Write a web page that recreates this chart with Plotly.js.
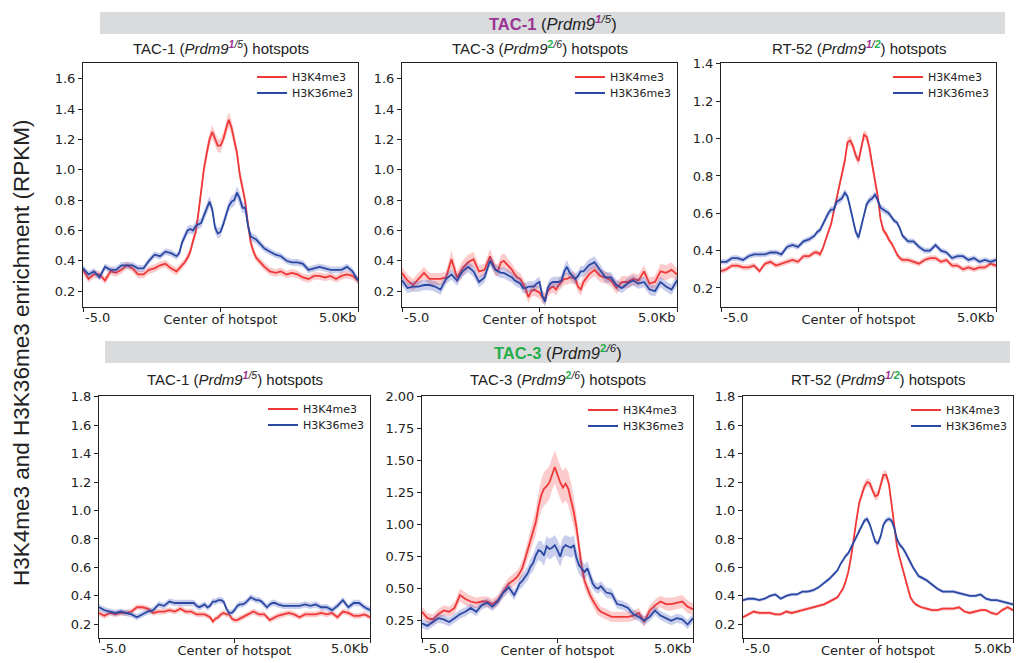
<!DOCTYPE html>
<html><head><meta charset="utf-8">
<script src="https://cdn.plot.ly/plotly-3.0.1.min.js"></script>
<style>html,body{margin:0;padding:0;background:#fff;} #chart{width:1019px;height:663px;}</style>
</head><body><div id="chart"></div>
<script>
// distance from hotspot centre (kb)
const xKb = [-5.0,-4.8,-4.6,-4.4,-4.2,-4.0,-3.8,-3.6,-3.4,-3.2,-3.0,-2.8,-2.6,-2.4,-2.2,-2.0,-1.8,-1.6,
 -1.5,-1.4,-1.3,-1.2,-1.1,-1.0,-0.9,-0.8,-0.7,-0.6,-0.5,-0.4,-0.3,-0.2,-0.1,0.0,0.1,0.2,0.3,0.4,0.5,0.6,0.7,0.8,0.9,1.0,1.1,1.2,1.3,1.4,1.5,
 1.6,1.8,2.0,2.2,2.4,2.6,2.8,3.0,3.2,3.4,3.6,3.8,4.0,4.2,4.4,4.6,4.8,5.0];

const xTickVals = [-5, 0, 5];
const xTickText = ['-5.0', 'Center of hotspot', '5.0Kb'];
const seriesNames = ['H3K4me3', 'H3K36me3'];
const hotspotSets = ['TAC-1', 'TAC-3', 'RT-52'];
const mouseLines = ['TAC-1', 'TAC-3'];

// Row A: TAC-1 (Prdm9 1/5) mice ; Row B: TAC-3 (Prdm9 2/6) mice
// Columns: TAC-1, TAC-3, RT-52 hotspots
const A1_K4 = [0.34,0.28,0.31,0.31,0.27,0.33,0.32,0.34,0.37,0.35,0.31,0.31,0.34,0.35,0.37,0.38,0.35,0.33,
 0.35,0.37,0.39,0.42,0.46,0.53,0.59,0.72,0.87,1.01,1.11,1.20,1.25,1.21,1.16,1.16,1.20,1.27,1.33,1.28,1.19,1.11,0.97,0.89,0.79,0.64,0.52,0.46,0.42,0.40,0.38,
 0.36,0.33,0.32,0.33,0.31,0.32,0.31,0.29,0.28,0.30,0.30,0.29,0.30,0.28,0.30,0.31,0.30,0.27];
const A1_K4_err = [0.025,0.025,0.025,0.025,0.025,0.025,0.025,0.025,0.025,0.025,0.025,0.025,0.025,0.025,0.025,0.025,0.025,0.025,
 0.025,0.025,0.025,0.03,0.03,0.03,0.035,0.04,0.045,0.045,0.045,0.045,0.045,0.045,0.045,0.045,0.045,0.045,0.05,0.05,0.045,0.045,0.045,0.04,0.04,0.035,0.03,0.03,0.025,0.025,0.025,
 0.025,0.025,0.025,0.025,0.025,0.025,0.025,0.025,0.025,0.025,0.025,0.025,0.025,0.025,0.025,0.025,0.025,0.025];
const A1_K36 = [0.35,0.31,0.33,0.29,0.36,0.34,0.34,0.37,0.37,0.37,0.35,0.35,0.40,0.44,0.43,0.46,0.45,0.43,
 0.45,0.52,0.56,0.60,0.61,0.60,0.63,0.64,0.65,0.70,0.74,0.79,0.74,0.62,0.58,0.59,0.64,0.70,0.76,0.79,0.80,0.85,0.81,0.75,0.75,0.63,0.56,0.55,0.54,0.52,0.50,
 0.48,0.46,0.44,0.43,0.40,0.39,0.39,0.38,0.34,0.35,0.36,0.35,0.34,0.34,0.34,0.36,0.33,0.27];
const A1_K36_err = [0.022,0.022,0.022,0.022,0.022,0.022,0.022,0.022,0.022,0.022,0.022,0.022,0.022,0.022,0.022,0.022,0.022,0.022,
 0.025,0.028,0.03,0.03,0.03,0.03,0.03,0.03,0.032,0.035,0.035,0.035,0.035,0.035,0.035,0.035,0.035,0.035,0.035,0.04,0.04,0.04,0.04,0.035,0.035,0.03,0.03,0.028,0.028,0.025,0.025,
 0.022,0.022,0.022,0.022,0.022,0.022,0.022,0.022,0.022,0.022,0.022,0.022,0.022,0.022,0.022,0.022,0.022,0.022];

const A2_K4 = [0.32,0.27,0.24,0.28,0.32,0.28,0.28,0.28,0.29,0.41,0.29,0.35,0.39,0.41,0.33,0.34,0.43,0.34,
 0.34,0.39,0.40,0.38,0.36,0.34,0.31,0.29,0.28,0.25,0.21,0.16,0.20,0.21,0.20,0.19,0.16,0.15,0.20,0.22,0.23,0.21,0.24,0.26,0.28,0.28,0.29,0.29,0.28,0.23,0.21,
 0.26,0.31,0.34,0.30,0.29,0.27,0.22,0.26,0.26,0.28,0.27,0.33,0.25,0.26,0.33,0.32,0.34,0.31];
const A2_K4_err = [0.04,0.04,0.04,0.04,0.04,0.04,0.04,0.04,0.04,0.06,0.04,0.05,0.05,0.05,0.04,0.04,0.05,0.04,
 0.04,0.05,0.05,0.05,0.04,0.04,0.04,0.04,0.04,0.04,0.04,0.04,0.04,0.04,0.04,0.04,0.04,0.04,0.04,0.04,0.04,0.04,0.04,0.04,0.04,0.04,0.04,0.04,0.04,0.04,0.04,
 0.04,0.04,0.04,0.04,0.04,0.04,0.04,0.04,0.04,0.04,0.04,0.04,0.04,0.04,0.05,0.05,0.05,0.04];
const A2_K36 = [0.27,0.22,0.23,0.23,0.24,0.24,0.23,0.21,0.28,0.31,0.27,0.33,0.36,0.33,0.26,0.29,0.40,0.34,
 0.33,0.32,0.32,0.31,0.30,0.29,0.27,0.26,0.25,0.22,0.22,0.23,0.23,0.23,0.25,0.26,0.17,0.13,0.22,0.25,0.26,0.26,0.26,0.27,0.33,0.36,0.32,0.30,0.28,0.30,0.33,
 0.33,0.37,0.39,0.34,0.29,0.29,0.24,0.22,0.25,0.27,0.25,0.26,0.21,0.20,0.26,0.23,0.21,0.27];
const A2_K36_err = [0.035,0.035,0.035,0.035,0.035,0.035,0.035,0.035,0.035,0.035,0.035,0.035,0.035,0.035,0.035,0.035,0.035,0.035,
 0.035,0.035,0.035,0.035,0.035,0.035,0.035,0.035,0.035,0.035,0.035,0.035,0.035,0.035,0.035,0.035,0.035,0.035,0.035,0.035,0.035,0.035,0.035,0.035,0.04,0.045,0.04,0.035,0.035,0.035,0.035,
 0.035,0.04,0.04,0.035,0.035,0.035,0.035,0.035,0.035,0.035,0.035,0.035,0.035,0.035,0.035,0.035,0.035,0.035];

const A3_K4 = [0.29,0.30,0.32,0.32,0.31,0.31,0.32,0.29,0.33,0.34,0.32,0.33,0.34,0.35,0.34,0.37,0.37,0.39,
 0.39,0.38,0.41,0.46,0.50,0.54,0.61,0.68,0.75,0.82,0.88,0.98,0.99,0.96,0.91,0.88,0.95,1.02,1.01,0.95,0.86,0.77,0.69,0.57,0.51,0.49,0.46,0.44,0.41,0.38,0.36,
 0.35,0.35,0.34,0.33,0.35,0.36,0.36,0.34,0.35,0.32,0.32,0.30,0.31,0.30,0.31,0.31,0.33,0.32];
const A3_K4_err = [0.015,0.015,0.015,0.015,0.015,0.015,0.015,0.015,0.015,0.015,0.015,0.015,0.015,0.015,0.015,0.015,0.015,0.015,
 0.015,0.015,0.015,0.015,0.018,0.018,0.02,0.02,0.022,0.022,0.025,0.025,0.025,0.025,0.025,0.025,0.025,0.025,0.025,0.025,0.025,0.022,0.022,0.02,0.02,0.018,0.018,0.015,0.015,0.015,0.015,
 0.015,0.015,0.015,0.015,0.015,0.015,0.015,0.015,0.015,0.015,0.015,0.015,0.015,0.015,0.015,0.015,0.015,0.015];
const A3_K36 = [0.34,0.34,0.36,0.36,0.35,0.37,0.38,0.38,0.38,0.39,0.39,0.38,0.42,0.43,0.42,0.45,0.46,0.48,
 0.50,0.51,0.54,0.57,0.60,0.62,0.62,0.66,0.67,0.68,0.71,0.69,0.63,0.56,0.50,0.47,0.53,0.60,0.65,0.67,0.68,0.70,0.67,0.63,0.62,0.61,0.60,0.58,0.56,0.55,0.52,
 0.48,0.45,0.45,0.42,0.40,0.40,0.43,0.40,0.39,0.36,0.37,0.37,0.35,0.36,0.34,0.35,0.34,0.35];
const A3_K36_err = [0.015,0.015,0.015,0.015,0.015,0.015,0.015,0.015,0.015,0.015,0.015,0.015,0.015,0.015,0.015,0.015,0.015,0.015,
 0.015,0.015,0.015,0.018,0.018,0.018,0.02,0.02,0.02,0.02,0.02,0.02,0.02,0.02,0.02,0.02,0.02,0.02,0.02,0.02,0.02,0.02,0.02,0.02,0.018,0.018,0.018,0.015,0.015,0.015,0.015,
 0.015,0.015,0.015,0.015,0.015,0.015,0.015,0.015,0.015,0.015,0.015,0.015,0.015,0.015,0.015,0.015,0.015,0.015];

const B1_K4 = [0.28,0.26,0.28,0.27,0.28,0.28,0.29,0.32,0.32,0.31,0.28,0.29,0.29,0.30,0.29,0.31,0.29,0.29,
 0.28,0.27,0.27,0.27,0.27,0.26,0.25,0.22,0.24,0.25,0.27,0.28,0.27,0.27,0.24,0.23,0.23,0.24,0.25,0.26,0.27,0.28,0.29,0.28,0.27,0.27,0.27,0.25,0.23,0.24,0.25,
 0.26,0.27,0.28,0.27,0.25,0.27,0.27,0.27,0.28,0.27,0.28,0.25,0.29,0.28,0.26,0.26,0.27,0.25];
const B1_K4_err = [0.02,0.02,0.02,0.02,0.02,0.02,0.02,0.02,0.02,0.02,0.02,0.02,0.02,0.02,0.02,0.02,0.02,0.02,
 0.02,0.02,0.02,0.02,0.02,0.02,0.02,0.02,0.02,0.02,0.02,0.02,0.02,0.02,0.02,0.02,0.02,0.02,0.02,0.02,0.02,0.02,0.02,0.02,0.02,0.02,0.02,0.02,0.02,0.02,0.02,
 0.02,0.02,0.02,0.02,0.02,0.02,0.02,0.02,0.02,0.02,0.02,0.02,0.02,0.02,0.02,0.02,0.02,0.02];
const B1_K36 = [0.32,0.30,0.29,0.28,0.29,0.28,0.27,0.25,0.27,0.29,0.30,0.34,0.33,0.36,0.35,0.35,0.35,0.35,
 0.35,0.33,0.32,0.33,0.34,0.32,0.33,0.36,0.36,0.37,0.37,0.36,0.31,0.28,0.28,0.30,0.33,0.34,0.34,0.35,0.37,0.39,0.38,0.37,0.37,0.36,0.34,0.32,0.34,0.35,0.35,
 0.34,0.33,0.33,0.33,0.33,0.34,0.33,0.34,0.32,0.32,0.30,0.33,0.37,0.32,0.35,0.35,0.32,0.30];
const B1_K36_err = [0.022,0.022,0.022,0.022,0.022,0.022,0.022,0.022,0.022,0.022,0.022,0.022,0.022,0.022,0.022,0.022,0.022,0.022,
 0.022,0.022,0.022,0.022,0.022,0.022,0.022,0.022,0.022,0.022,0.022,0.022,0.022,0.022,0.022,0.022,0.022,0.022,0.022,0.022,0.022,0.022,0.022,0.022,0.022,0.022,0.022,0.022,0.022,0.022,0.022,
 0.022,0.022,0.022,0.022,0.022,0.022,0.022,0.022,0.022,0.022,0.022,0.022,0.022,0.022,0.022,0.022,0.022,0.022];

const B2_K4 = [0.32,0.27,0.26,0.30,0.33,0.32,0.35,0.45,0.42,0.40,0.39,0.40,0.40,0.38,0.41,0.48,0.54,0.57,
 0.59,0.62,0.66,0.73,0.80,0.86,0.94,1.02,1.14,1.23,1.28,1.30,1.33,1.40,1.45,1.39,1.33,1.29,1.32,1.28,1.20,1.10,0.98,0.80,0.66,0.56,0.50,0.45,0.41,0.37,0.34,
 0.32,0.30,0.28,0.28,0.28,0.28,0.29,0.31,0.24,0.33,0.37,0.40,0.38,0.38,0.39,0.40,0.36,0.34];
const B2_K4_err = [0.04,0.04,0.04,0.04,0.04,0.04,0.045,0.05,0.05,0.045,0.04,0.04,0.04,0.04,0.04,0.045,0.045,0.05,
 0.05,0.05,0.06,0.06,0.07,0.08,0.09,0.10,0.11,0.12,0.13,0.13,0.13,0.13,0.13,0.13,0.13,0.13,0.13,0.13,0.13,0.12,0.10,0.08,0.07,0.06,0.05,0.05,0.05,0.05,0.05,
 0.04,0.04,0.04,0.04,0.04,0.04,0.04,0.04,0.04,0.04,0.045,0.045,0.05,0.05,0.05,0.05,0.05,0.045];
const B2_K36 = [0.23,0.21,0.24,0.27,0.26,0.24,0.27,0.30,0.32,0.35,0.32,0.37,0.39,0.36,0.40,0.47,0.51,0.45,
 0.49,0.54,0.56,0.59,0.62,0.67,0.70,0.76,0.80,0.79,0.76,0.83,0.81,0.82,0.84,0.80,0.75,0.82,0.84,0.83,0.82,0.84,0.74,0.68,0.65,0.63,0.66,0.59,0.54,0.51,0.50,
 0.52,0.47,0.46,0.38,0.37,0.35,0.30,0.28,0.25,0.28,0.33,0.29,0.27,0.25,0.27,0.26,0.22,0.27];
const B2_K36_err = [0.035,0.035,0.035,0.035,0.035,0.035,0.035,0.035,0.035,0.035,0.035,0.035,0.035,0.035,0.035,0.04,0.04,0.04,
 0.04,0.045,0.05,0.05,0.055,0.06,0.065,0.07,0.075,0.08,0.08,0.08,0.08,0.08,0.08,0.08,0.08,0.08,0.08,0.08,0.08,0.08,0.075,0.07,0.065,0.06,0.055,0.05,0.045,0.04,0.04,
 0.04,0.04,0.04,0.035,0.035,0.035,0.035,0.035,0.035,0.035,0.035,0.035,0.035,0.035,0.035,0.035,0.035,0.035];

const B3_K4 = [0.25,0.27,0.29,0.28,0.28,0.28,0.27,0.27,0.29,0.28,0.29,0.30,0.31,0.32,0.33,0.34,0.36,0.38,
 0.39,0.42,0.45,0.50,0.57,0.67,0.81,0.93,1.05,1.12,1.17,1.20,1.19,1.14,1.10,1.11,1.18,1.25,1.25,1.19,1.05,0.90,0.75,0.67,0.60,0.52,0.45,0.39,0.36,0.34,0.33,
 0.32,0.31,0.30,0.30,0.31,0.31,0.31,0.32,0.29,0.28,0.29,0.30,0.30,0.28,0.27,0.30,0.32,0.30];
const B3_K4_err = [0.012,0.012,0.012,0.012,0.012,0.012,0.012,0.012,0.012,0.012,0.012,0.012,0.012,0.012,0.012,0.012,0.012,0.012,
 0.012,0.012,0.014,0.015,0.018,0.02,0.022,0.025,0.028,0.03,0.03,0.03,0.03,0.03,0.03,0.03,0.03,0.032,0.032,0.03,0.028,0.025,0.022,0.02,0.018,0.016,0.015,0.014,0.012,0.012,0.012,
 0.012,0.012,0.012,0.012,0.012,0.012,0.012,0.012,0.012,0.012,0.012,0.012,0.012,0.012,0.012,0.012,0.012,0.012];
const B3_K36 = [0.37,0.38,0.38,0.37,0.38,0.40,0.41,0.38,0.40,0.41,0.41,0.43,0.43,0.44,0.46,0.49,0.52,0.56,
 0.58,0.62,0.65,0.68,0.70,0.74,0.78,0.82,0.86,0.90,0.93,0.94,0.90,0.84,0.78,0.77,0.82,0.90,0.93,0.94,0.93,0.88,0.80,0.76,0.74,0.71,0.67,0.63,0.60,0.57,0.54,
 0.53,0.51,0.48,0.45,0.43,0.43,0.43,0.42,0.41,0.40,0.40,0.41,0.38,0.37,0.37,0.36,0.35,0.34];
const B3_K36_err = [0.012,0.012,0.012,0.012,0.012,0.012,0.012,0.012,0.012,0.012,0.012,0.012,0.012,0.012,0.012,0.012,0.014,0.014,
 0.014,0.015,0.015,0.016,0.016,0.017,0.018,0.018,0.02,0.02,0.02,0.02,0.02,0.02,0.02,0.02,0.02,0.02,0.02,0.02,0.02,0.02,0.02,0.018,0.018,0.017,0.016,0.016,0.015,0.015,0.014,
 0.014,0.014,0.012,0.012,0.012,0.012,0.012,0.012,0.012,0.012,0.012,0.012,0.012,0.012,0.012,0.012,0.012,0.012];

// ---------- styling ----------
const RED = '#f03838', RED_BAND = 'rgba(245,70,70,0.28)';
const BLUE = '#2b49a2', BLUE_BAND = 'rgba(60,80,190,0.28)';
const PURPLE = '#9b3493', GREEN = '#25ad4a';
const W = 1019, H = 663;
const px = v => v / W, py = v => 1 - v / H;

const sup = {
  'TAC-1': `<sup><i><b><span style="color:${PURPLE}">1</span></b>/5</i></sup>`,
  'TAC-3': `<sup><b><span style="color:${GREEN}">2</span></b><i>/6</i></sup>`,
  'RT-52': `<sup><i><b><span style="color:${PURPLE}">1</span></b>/<b><span style="color:${GREEN}">2</span></b></i></sup>`
};

const panels = [
  {k4: A1_K4, k4e: A1_K4_err, k36: A1_K36, k36e: A1_K36_err, hs: 0, xd: [83, 358], yd: [63, 307], yr: [0.095, 1.705], t0: 0.2, dt: 0.2, fmt: '.1f', leg: [252, 77, 93], ty: 48},
  {k4: A2_K4, k4e: A2_K4_err, k36: A2_K36, k36e: A2_K36_err, hs: 1, xd: [402, 677], yd: [63, 307], yr: [0.095, 1.705], t0: 0.2, dt: 0.2, fmt: '.1f', leg: [570, 77, 93], ty: 48},
  {k4: A3_K4, k4e: A3_K4_err, k36: A3_K36, k36e: A3_K36_err, hs: 2, xd: [721, 996], yd: [63, 307], yr: [0.098, 1.405], t0: 0.2, dt: 0.2, fmt: '.1f', leg: [888, 77, 93], ty: 48},
  {k4: B1_K4, k4e: B1_K4_err, k36: B1_K36, k36e: B1_K36_err, hs: 0, xd: [99, 370], yd: [396, 638], yr: [0.104, 1.805], t0: 0.2, dt: 0.2, fmt: '.1f', leg: [263, 409, 425], ty: 378},
  {k4: B2_K4, k4e: B2_K4_err, k36: B2_K36, k36e: B2_K36_err, hs: 1, xd: [422, 693], yd: [396, 638], yr: [0.115, 2.005], t0: 0.25, dt: 0.25, fmt: '.2f', leg: [583, 410, 426], ty: 378},
  {k4: B3_K4, k4e: B3_K4_err, k36: B3_K36, k36e: B3_K36_err, hs: 2, xd: [743, 1013], yd: [396, 638], yr: [0.104, 1.805], t0: 0.2, dt: 0.2, fmt: '.1f', leg: [906, 410, 426], ty: 378}
];

const tickFont = {family: 'DejaVu Sans', size: 13, color: '#222'};
const titleFont = {family: 'Liberation Sans, Arial, sans-serif', size: 15, color: '#222'};
const legendFont = {family: 'DejaVu Sans', size: 11, color: '#222'};

const traces = [];
const layout = {
  width: W, height: H, margin: {l: 0, r: 0, t: 0, b: 0},
  paper_bgcolor: '#fff', plot_bgcolor: '#fff',
  shapes: [], annotations: [], showlegend: true
};

function band(vals, err) {
  const up = vals.map((v, i) => v + err[i]);
  const lo = vals.map((v, i) => v - err[i]);
  return {x: xKb.concat(xKb.slice().reverse()), y: up.concat(lo.slice().reverse())};
}

let legendCount = 0;
panels.forEach((p, i) => {
  const n = i === 0 ? '' : String(i + 1);
  const xa = 'x' + n, ya = 'y' + n;
  const series = [[p.k4, p.k4e, RED, RED_BAND, seriesNames[0], p.leg[1]], [p.k36, p.k36e, BLUE, BLUE_BAND, seriesNames[1], p.leg[2]]];
  series.forEach(([v, e, c, bc, name, ly]) => {
    legendCount += 1;
    const lg = 'legend' + (legendCount === 1 ? '' : legendCount);
    const b = band(v, e);
    traces.push({x: b.x, y: b.y, xaxis: xa, yaxis: ya, type: 'scatter', mode: 'lines', fill: 'toself',
      fillcolor: bc, line: {width: 0, color: bc}, hoverinfo: 'skip', showlegend: false});
    traces.push({x: xKb, y: v, xaxis: xa, yaxis: ya, type: 'scatter', mode: 'lines', name: name,
      line: {color: c, width: 1.8}, legend: lg});
    layout[lg] = {
      x: px(p.leg[0]), y: py(ly), xanchor: 'left', yanchor: 'middle',
      bgcolor: 'rgba(0,0,0,0)', borderwidth: 0, font: legendFont
    };
  });
  layout['xaxis' + n] = {
    domain: [px(p.xd[0]), px(p.xd[1])], anchor: ya, range: [-5, 5],
    tickvals: [xTickVals[1]], ticktext: [xTickText[1]], ticklabelstandoff: -4,
    ticks: 'outside', ticklen: 4, tickwidth: 1, tickcolor: '#222',
    minor: {tickvals: [xTickVals[0], xTickVals[2]], ticks: 'outside', ticklen: 4, tickwidth: 1, tickcolor: '#222', showgrid: false},
    showline: true, mirror: true, linecolor: '#222', linewidth: 1,
    showgrid: false, zeroline: false, tickfont: tickFont, fixedrange: true
  };
  layout['yaxis' + n] = {
    domain: [py(p.yd[1]), py(p.yd[0])], anchor: xa, range: p.yr,
    tick0: p.t0, dtick: p.dt, tickformat: p.fmt,
    ticks: 'outside', ticklen: 4, tickwidth: 1, tickcolor: '#222',
    showline: true, mirror: true, linecolor: '#222', linewidth: 1,
    showgrid: false, zeroline: false, tickfont: tickFont, fixedrange: true
  };
  // edge tick labels, aligned like deepTools (left / right justified)
  layout.annotations.push({xref: xa, yref: ya + ' domain', x: xTickVals[0], y: 0, xanchor: 'left', yanchor: 'top',
    yshift: -1, text: xTickText[0], showarrow: false, font: tickFont});
  layout.annotations.push({xref: xa, yref: ya + ' domain', x: xTickVals[2], y: 0, xanchor: 'right', yanchor: 'top',
    yshift: -1, text: xTickText[2], showarrow: false, font: tickFont});
  // subplot title
  const hsName = hotspotSets[p.hs];
  layout.annotations.push({xref: 'paper', yref: 'paper', x: px((p.xd[0] + p.xd[1]) / 2), y: py(p.ty),
    xanchor: 'center', yanchor: 'middle', showarrow: false, font: titleFont,
    text: `${hsName} (<i>Prdm9</i>${sup[hsName]}) hotspots`});
});

// group headers (grey bars)
const headers = [
  {name: mouseLines[0], color: PURPLE, bar: [100, 1005, 12, 34]},
  {name: mouseLines[1], color: GREEN, bar: [105, 1010, 341, 363]}
];
headers.forEach(h => {
  layout.shapes.push({type: 'rect', xref: 'paper', yref: 'paper', x0: px(h.bar[0]), x1: px(h.bar[1]),
    y0: py(h.bar[3]), y1: py(h.bar[2]), fillcolor: '#dadbdd', line: {width: 0}, layer: 'below'});
  layout.annotations.push({xref: 'paper', yref: 'paper', x: px((h.bar[0] + h.bar[1]) / 2), y: py((h.bar[2] + h.bar[3]) / 2),
    xanchor: 'center', yanchor: 'middle', showarrow: false,
    font: {family: 'Liberation Sans, Arial, sans-serif', size: 16.5, color: '#222'},
    text: `<b><span style="color:${h.color}">${h.name}</span></b> (<i>Prdm9</i>${sup[h.name]})`});
});

// shared y title
layout.annotations.push({xref: 'paper', yref: 'paper', x: px(21), y: py(353), xanchor: 'center', yanchor: 'middle',
  textangle: -90, showarrow: false, text: 'H3K4me3 and H3K36me3 enrichment (RPKM)',
  font: {family: 'Liberation Sans, Arial, sans-serif', size: 22.5, color: '#222'}});

Plotly.newPlot('chart', traces, layout, {displayModeBar: false, staticPlot: true});
</script></body></html>
